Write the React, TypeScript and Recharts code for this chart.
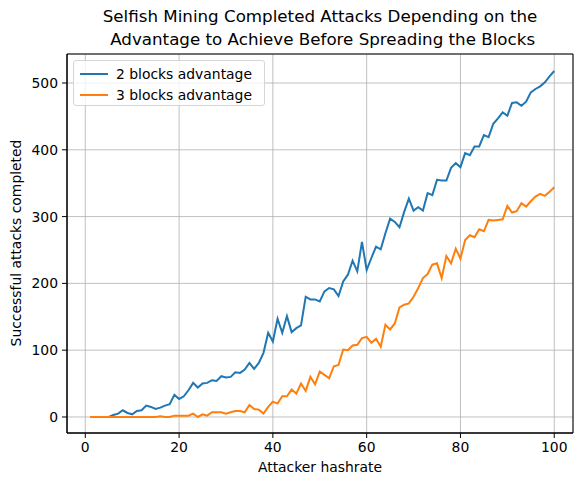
import React from 'react';
import { LineChart, Line, XAxis, YAxis, CartesianGrid, ReferenceArea } from 'recharts';

// attacker hashrate 1..100
const hashrate = Array.from({ length: 100 }, (_, i) => i + 1);

const twoBlocks = [
  0, 0, 0, 0, 0, 3, 5, 10, 6, 4,
  9, 10, 17, 15, 12, 14, 17, 19, 33, 27,
  31, 40, 51, 44, 50, 51, 55, 54, 61, 59,
  60, 67, 66, 71, 81, 72, 81, 96, 126, 113,
  147, 126, 151, 127, 133, 137, 180, 176, 176, 173,
  188, 193, 191, 181, 203, 213, 234, 218, 262, 220,
  238, 255, 251, 275, 297, 292, 284, 307, 327, 309,
  314, 309, 335, 332, 355, 354, 354, 373, 380, 374,
  395, 392, 405, 405, 422, 419, 439, 447, 456, 451,
  470, 471, 466, 472, 486, 491, 495, 501, 510, 518,
];

const threeBlocks = [
  0, 0, 0, 0, 0, 0, 0, 0, 0, 0,
  0, 0, 0, 0, 0, 1, 0, 0, 2, 2,
  2, 2, 5, 0, 4, 2, 7, 7, 7, 5,
  7, 9, 9, 7, 18, 12, 11, 5, 15, 23,
  20, 31, 31, 41, 35, 50, 39, 60, 49, 68,
  63, 58, 76, 78, 101, 100, 107, 108, 118, 120,
  111, 117, 105, 138, 131, 140, 164, 168, 170, 180,
  193, 208, 214, 228, 230, 208, 241, 230, 252, 237,
  265, 272, 269, 281, 278, 295, 294, 295, 296, 316,
  306, 308, 320, 315, 323, 330, 334, 331, 337, 344,
];

const xTicks = [0, 20, 40, 60, 80, 100];
const yTicks = [0, 100, 200, 300, 400, 500];

const data = hashrate.map((x, i) => ({ x, two: twoBlocks[i], three: threeBlocks[i] }));

const X_DOMAIN: [number, number] = [-3.9, 104];
const Y_DOMAIN: [number, number] = [-24, 543.4];

const font = '"DejaVu Sans", sans-serif';
const tickStyle = { fill: '#000', fontSize: 13.9, fontFamily: font };

export default function App() {
  return (
    <div style={{ position: 'absolute', left: 0, top: 0, width: 574, height: 481, background: '#fff', fontFamily: font }}>
      <div style={{ position: 'absolute', left: 0, width: 640, top: 5, textAlign: 'center', fontSize: 16.7, lineHeight: '23px', color: '#000', whiteSpace: 'pre' }}>
        {'Selfish Mining Completed Attacks Depending on the\n Advantage to Achieve Before Spreading the Blocks'}
      </div>

      <LineChart width={574} height={481} data={data} margin={{ top: 54, right: 1, bottom: 0, left: 0 }}>
        <CartesianGrid stroke="#b0b0b0" strokeWidth={0.8} />
        <XAxis
          dataKey="x"
          type="number"
          domain={X_DOMAIN}
          ticks={xTicks}
          height={48}
          tick={tickStyle}
          tickSize={5}
          tickMargin={4}
          stroke="#000"
          allowDataOverflow
        />
        <YAxis
          type="number"
          domain={Y_DOMAIN}
          ticks={yTicks}
          width={67}
          tick={tickStyle}
          tickSize={5}
          tickMargin={4}
          stroke="#000"
          allowDataOverflow
        />
        <ReferenceArea x1={X_DOMAIN[0]} x2={X_DOMAIN[1]} y1={Y_DOMAIN[0]} y2={Y_DOMAIN[1]} fill="none" stroke="#000" strokeWidth={1} />
        <Line dataKey="two" stroke="#1f77b4" strokeWidth={2} dot={false} isAnimationActive={false} />
        <Line dataKey="three" stroke="#ff7f0e" strokeWidth={2} dot={false} isAnimationActive={false} />
      </LineChart>

      <div style={{ position: 'absolute', left: 0, width: 640, top: 459, textAlign: 'center', fontSize: 13.9, color: '#000' }}>
        Attacker hashrate
      </div>
      <div style={{ position: 'absolute', left: 16, top: 243, width: 0, height: 0 }}>
        <div style={{ position: 'absolute', transform: 'translate(-50%, -50%) rotate(-90deg)', whiteSpace: 'nowrap', fontSize: 13.9, color: '#000' }}>
          Successful attacks completed
        </div>
      </div>

      <div style={{ position: 'absolute', left: 73, top: 60, width: 192, height: 46, border: '1px solid #d6d6d6', borderRadius: 3, background: 'rgba(255,255,255,0.8)', boxSizing: 'border-box' }}>
        {[
          { label: '2 blocks advantage', color: '#1f77b4', y: 13 },
          { label: '3 blocks advantage', color: '#ff7f0e', y: 34 },
        ].map((it) => (
          <div key={it.label} style={{ position: 'absolute', left: 6, top: it.y - 9, height: 18, display: 'flex', alignItems: 'center' }}>
            <div style={{ width: 28, height: 2, background: it.color }} />
            <span style={{ marginLeft: 8, fontSize: 13.9, color: '#000', whiteSpace: 'nowrap' }}>{it.label}</span>
          </div>
        ))}
      </div>
    </div>
  );
}
